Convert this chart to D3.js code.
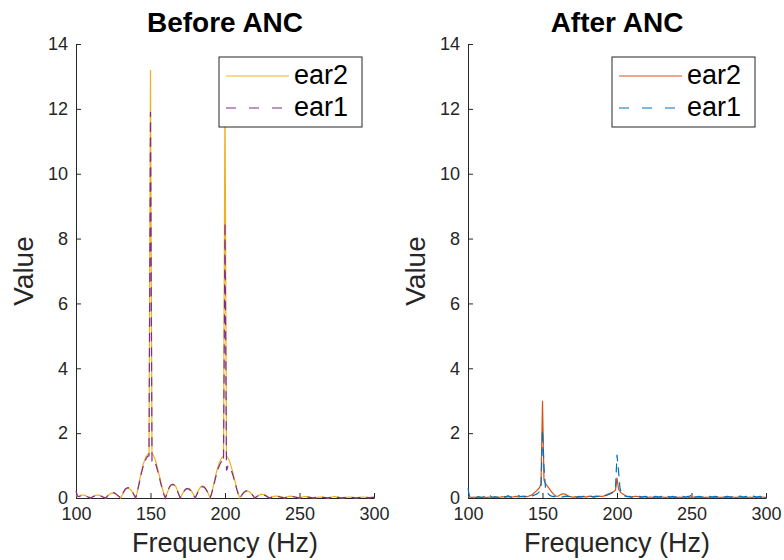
<!DOCTYPE html>
<html>
<head>
<meta charset="utf-8">
<script src="https://cdn.jsdelivr.net/npm/d3@7"></script>
<style>
  body { margin: 0; background: #fff; }
  svg { display: block; font-family: "Liberation Sans", Arial, sans-serif; }
</style>
</head>
<body>
<div id="chart"></div>
<script>
// frequency grid, 1 Hz steps
const freqHz = d3.range(100, 301);

const xTicks = [100, 150, 200, 250, 300];
const yTicks = [0, 2, 4, 6, 8, 10, 12, 14];

// Before ANC
const ear2Before = [
  0.08, 0.05, 0.06, 0.08, 0.09, 0.09, 0.08, 0.06, 0.04, 0.02,
  0.00, 0.03, 0.06, 0.08, 0.09, 0.09, 0.08, 0.06, 0.04, 0.02,
  0.00, 0.05, 0.10, 0.13, 0.15, 0.15, 0.14, 0.11, 0.08, 0.04,
  0.00, 0.09, 0.18, 0.25, 0.29, 0.30, 0.28, 0.24, 0.17, 0.09,
  0.00, 0.16, 0.40, 0.62, 0.84, 1.02, 1.16, 1.27, 1.34, 1.38,
  13.2, 1.38, 1.31, 1.20, 1.05, 0.87, 0.68, 0.48, 0.29, 0.12,
  0.00, 0.13, 0.25, 0.35, 0.41, 0.43, 0.41, 0.35, 0.25, 0.13,
  0.00, 0.09, 0.18, 0.25, 0.29, 0.30, 0.29, 0.25, 0.18, 0.09,
  0.00, 0.11, 0.22, 0.30, 0.36, 0.37, 0.36, 0.30, 0.22, 0.11,
  0.00, 0.15, 0.34, 0.55, 0.75, 0.92, 1.06, 1.17, 1.25, 1.29,
  12.5, 1.29, 1.24, 1.14, 1.00, 0.83, 0.65, 0.46, 0.28, 0.12,
  0.00, 0.07, 0.13, 0.17, 0.20, 0.21, 0.20, 0.17, 0.12, 0.06,
  0.00, 0.04, 0.07, 0.09, 0.11, 0.11, 0.10, 0.09, 0.06, 0.03,
  0.00, 0.02, 0.04, 0.05, 0.06, 0.06, 0.05, 0.04, 0.03, 0.02,
  0.00, 0.02, 0.04, 0.05, 0.06, 0.05, 0.04, 0.03, 0.02, 0.01,
  0.00, 0.02, 0.03, 0.04, 0.04, 0.04, 0.03, 0.02, 0.01, 0.01,
  0.00, 0.01, 0.02, 0.03, 0.03, 0.03, 0.02, 0.02, 0.01, 0.00,
  0.01, 0.02, 0.03, 0.04, 0.04, 0.03, 0.02, 0.01, 0.01, 0.00,
  0.01, 0.02, 0.02, 0.03, 0.03, 0.02, 0.02, 0.01, 0.00, 0.01,
  0.02, 0.02, 0.03, 0.03, 0.02, 0.02, 0.01, 0.01, 0.02, 0.02,
  0.02
];
const ear1Before = [
  0.22, 0.06, 0.04, 0.06, 0.07, 0.08, 0.07, 0.05, 0.03, 0.01,
  0.00, 0.03, 0.05, 0.07, 0.08, 0.08, 0.07, 0.05, 0.03, 0.01,
  0.00, 0.06, 0.11, 0.15, 0.17, 0.17, 0.15, 0.12, 0.08, 0.04,
  0.00, 0.10, 0.19, 0.27, 0.31, 0.32, 0.30, 0.25, 0.18, 0.09,
  0.00, 0.14, 0.36, 0.57, 0.78, 0.96, 1.10, 1.21, 1.28, 1.30,
  11.9, 1.15, 1.18, 1.10, 0.97, 0.80, 0.62, 0.43, 0.26, 0.11,
  0.00, 0.13, 0.27, 0.36, 0.41, 0.42, 0.39, 0.32, 0.22, 0.10,
  0.00, 0.09, 0.17, 0.24, 0.28, 0.29, 0.27, 0.23, 0.16, 0.08,
  0.00, 0.10, 0.20, 0.28, 0.33, 0.35, 0.33, 0.28, 0.20, 0.10,
  0.00, 0.13, 0.30, 0.49, 0.68, 0.85, 0.98, 1.08, 1.14, 1.10,
  8.5, 0.85, 0.98, 0.96, 0.88, 0.75, 0.59, 0.42, 0.25, 0.10,
  0.00, 0.07, 0.14, 0.19, 0.22, 0.22, 0.21, 0.17, 0.12, 0.06,
  0.00, 0.03, 0.06, 0.08, 0.10, 0.10, 0.09, 0.08, 0.05, 0.02,
  0.00, 0.02, 0.03, 0.04, 0.05, 0.05, 0.04, 0.03, 0.02, 0.01,
  0.00, 0.02, 0.03, 0.04, 0.05, 0.05, 0.04, 0.03, 0.02, 0.01,
  0.00, 0.01, 0.03, 0.04, 0.04, 0.03, 0.03, 0.02, 0.01, 0.00,
  0.01, 0.02, 0.03, 0.03, 0.03, 0.02, 0.02, 0.01, 0.01, 0.00,
  0.01, 0.02, 0.02, 0.03, 0.03, 0.03, 0.02, 0.01, 0.00, 0.01,
  0.01, 0.02, 0.03, 0.03, 0.03, 0.02, 0.01, 0.01, 0.00, 0.01,
  0.01, 0.02, 0.02, 0.03, 0.02, 0.02, 0.01, 0.01, 0.01, 0.02,
  0.02
];

// After ANC
const ear2After = [
  0.05, 0.03, 0.02, 0.02, 0.03, 0.02, 0.02, 0.03, 0.02, 0.02,
  0.02, 0.03, 0.02, 0.02, 0.03, 0.02, 0.03, 0.02, 0.02, 0.03,
  0.03, 0.02, 0.03, 0.04, 0.03, 0.02, 0.03, 0.04, 0.03, 0.02,
  0.03, 0.04, 0.05, 0.04, 0.03, 0.04, 0.05, 0.04, 0.03, 0.05,
  0.04, 0.06, 0.08, 0.10, 0.14, 0.18, 0.22, 0.27, 0.32, 0.45,
  3.00, 0.55, 0.45, 0.38, 0.32, 0.26, 0.20, 0.14, 0.09, 0.06,
  0.05, 0.07, 0.10, 0.12, 0.13, 0.12, 0.10, 0.07, 0.05, 0.04,
  0.03, 0.03, 0.04, 0.03, 0.02, 0.03, 0.04, 0.05, 0.04, 0.03,
  0.04, 0.05, 0.06, 0.05, 0.04, 0.03, 0.04, 0.05, 0.06, 0.05,
  0.05, 0.06, 0.08, 0.10, 0.12, 0.14, 0.16, 0.18, 0.20, 0.25,
  0.62, 0.28, 0.20, 0.15, 0.12, 0.09, 0.07, 0.05, 0.04, 0.03,
  0.03, 0.04, 0.05, 0.05, 0.04, 0.03, 0.02, 0.03, 0.04, 0.03,
  0.02, 0.02, 0.03, 0.03, 0.02, 0.02, 0.03, 0.02, 0.02, 0.03,
  0.02, 0.03, 0.02, 0.02, 0.03, 0.02, 0.02, 0.03, 0.02, 0.02,
  0.02, 0.02, 0.03, 0.02, 0.02, 0.03, 0.02, 0.03, 0.02, 0.02,
  0.04, 0.03, 0.02, 0.02, 0.03, 0.02, 0.02, 0.03, 0.02, 0.02,
  0.02, 0.03, 0.02, 0.02, 0.03, 0.02, 0.02, 0.02, 0.03, 0.02,
  0.02, 0.03, 0.02, 0.02, 0.02, 0.03, 0.02, 0.02, 0.03, 0.02,
  0.02, 0.02, 0.03, 0.02, 0.02, 0.03, 0.02, 0.02, 0.02, 0.03,
  0.02, 0.02, 0.03, 0.02, 0.02, 0.03, 0.02, 0.02, 0.03, 0.02,
  0.02
];
const ear1After = [
  0.30, 0.05, 0.03, 0.02, 0.04, 0.03, 0.02, 0.04, 0.03, 0.02,
  0.03, 0.05, 0.03, 0.02, 0.04, 0.06, 0.03, 0.02, 0.04, 0.03,
  0.02, 0.05, 0.03, 0.04, 0.06, 0.03, 0.05, 0.07, 0.04, 0.03,
  0.05, 0.06, 0.04, 0.05, 0.07, 0.05, 0.04, 0.06, 0.05, 0.04,
  0.03, 0.05, 0.04, 0.06, 0.08, 0.10, 0.12, 0.15, 0.20, 0.30,
  2.10, 0.95, 0.30, 0.18, 0.12, 0.08, 0.06, 0.05, 0.04, 0.05,
  0.06, 0.05, 0.04, 0.03, 0.04, 0.05, 0.06, 0.05, 0.04, 0.06,
  0.08, 0.06, 0.04, 0.03, 0.04, 0.05, 0.03, 0.04, 0.05, 0.04,
  0.03, 0.04, 0.05, 0.04, 0.03, 0.05, 0.06, 0.05, 0.04, 0.06,
  0.05, 0.06, 0.07, 0.08, 0.10, 0.12, 0.14, 0.16, 0.18, 0.30,
  1.33, 0.85, 0.30, 0.15, 0.10, 0.07, 0.05, 0.04, 0.05, 0.04,
  0.03, 0.04, 0.05, 0.04, 0.03, 0.05, 0.04, 0.03, 0.04, 0.05,
  0.04, 0.03, 0.05, 0.04, 0.03, 0.04, 0.05, 0.04, 0.03, 0.04,
  0.05, 0.04, 0.03, 0.04, 0.05, 0.04, 0.03, 0.05, 0.04, 0.03,
  0.04, 0.05, 0.03, 0.04, 0.05, 0.04, 0.03, 0.04, 0.05, 0.06,
  0.13, 0.05, 0.04, 0.03, 0.04, 0.05, 0.04, 0.03, 0.04, 0.05,
  0.04, 0.03, 0.05, 0.04, 0.03, 0.04, 0.05, 0.04, 0.03, 0.04,
  0.05, 0.04, 0.03, 0.04, 0.05, 0.04, 0.03, 0.04, 0.05, 0.04,
  0.03, 0.04, 0.05, 0.06, 0.04, 0.03, 0.04, 0.05, 0.04, 0.03,
  0.04, 0.06, 0.05, 0.04, 0.03, 0.04, 0.05, 0.04, 0.03, 0.04,
  0.03
];

const seriesNames = ["ear2", "ear1"];

const width = 784,
  height = 560;
const axisColor = "#262626";

const svg = d3
  .select("#chart")
  .append("svg")
  .attr("width", width)
  .attr("height", height);

// one MATLAB-style subplot
function drawPanel(opts) {
  const { left, right, top, bottom, title, ear2, ear1, colors } = opts;

  const x = d3.scaleLinear().domain([100, 300]).range([left, right]);
  const y = d3.scaleLinear().domain([0, 14]).range([bottom, top]);

  const g = svg.append("g");

  // ****************** axes ***************************
  const xAxis = d3
    .axisBottom(x)
    .tickValues(xTicks)
    .tickSizeInner(-5)
    .tickSizeOuter(0)
    .tickPadding(9);

  const yAxis = d3
    .axisLeft(y)
    .tickValues(yTicks)
    .tickSizeInner(-5)
    .tickSizeOuter(0)
    .tickPadding(8);

  const gx = g
    .append("g")
    .attr("transform", "translate(0," + bottom + ")")
    .call(xAxis);

  const gy = g
    .append("g")
    .attr("transform", "translate(" + left + ",0)")
    .call(yAxis);

  [gx, gy].forEach(a => {
    a.selectAll("path, line").attr("stroke", axisColor);
    a.selectAll("text")
      .attr("fill", axisColor)
      .style("font-size", "18px");
  });

  // ****************** lines ***************************
  const line = vals =>
    d3
      .line()
      .x((d, i) => x(freqHz[i]))
      .y(d => y(d))(vals);

  g.append("path")
    .attr("d", line(ear2))
    .attr("fill", "none")
    .attr("stroke", colors[0])
    .attr("stroke-width", 1.2);

  g.append("path")
    .attr("d", line(ear1))
    .attr("fill", "none")
    .attr("stroke", colors[1])
    .attr("stroke-width", 1.2)
    .attr("stroke-dasharray", "9,6");

  // ****************** labels ***************************
  const cx = (left + right) / 2;

  g.append("text")
    .attr("x", cx)
    .attr("y", 32)
    .attr("text-anchor", "middle")
    .style("font-size", "28px")
    .style("font-weight", "bold")
    .text(title);

  g.append("text")
    .attr("x", cx)
    .attr("y", 552)
    .attr("text-anchor", "middle")
    .attr("fill", axisColor)
    .style("font-size", "27px")
    .text("Frequency (Hz)");

  g.append("text")
    .attr(
      "transform",
      "translate(" + (left - 43) + "," + (top + bottom) / 2 + ") rotate(-90)"
    )
    .attr("text-anchor", "middle")
    .attr("fill", axisColor)
    .style("font-size", "28px")
    .text("Value");

  // ****************** legend ***************************
  const lx = opts.legendX,
    ly = 57;
  const leg = g.append("g").attr("transform", "translate(" + lx + "," + ly + ")");

  leg.append("rect")
    .attr("width", 143)
    .attr("height", 70)
    .attr("fill", "#fff")
    .attr("stroke", axisColor)
    .attr("stroke-width", 1);

  seriesNames.forEach((name, i) => {
    const yy = 19 + i * 32;
    leg.append("line")
      .attr("x1", 7)
      .attr("x2", 70)
      .attr("y1", yy)
      .attr("y2", yy)
      .attr("stroke", colors[i])
      .attr("stroke-width", 1.2)
      .attr("stroke-dasharray", i === 1 ? "10,13" : null);
    leg.append("text")
      .attr("x", 75)
      .attr("y", yy + 8)
      .style("font-size", "27px")
      .attr("fill", "#000")
      .text(name);
  });
}

drawPanel({
  left: 76,
  right: 374,
  top: 44,
  bottom: 498,
  title: "Before ANC",
  ear2: ear2Before,
  ear1: ear1Before,
  colors: ["#EDB120", "#7E2F8E"],
  legendX: 219
});

drawPanel({
  left: 468,
  right: 766,
  top: 44,
  bottom: 498,
  title: "After ANC",
  ear2: ear2After,
  ear1: ear1After,
  colors: ["#D95319", "#0072BD"],
  legendX: 612
});
</script>
</body>
</html>
